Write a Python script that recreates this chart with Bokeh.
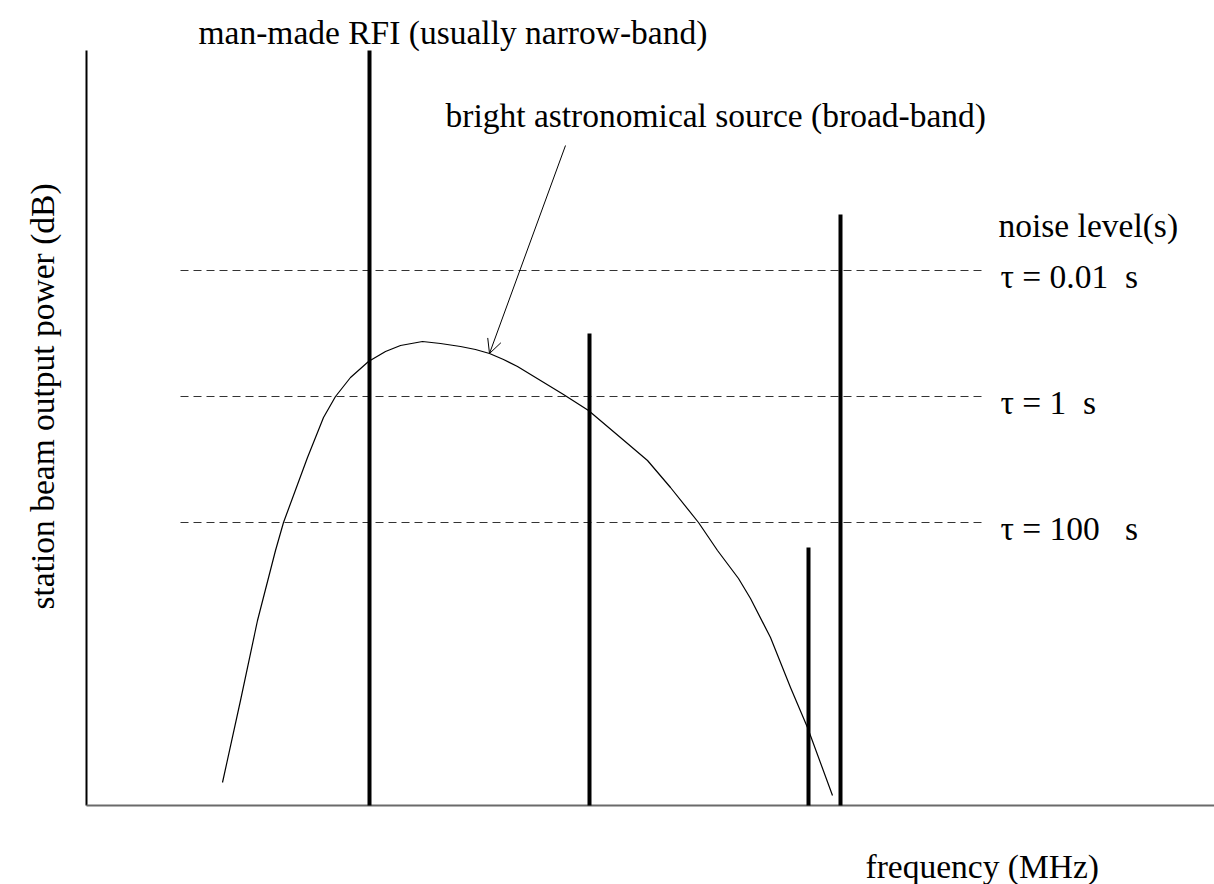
import math
from bokeh.plotting import figure
from bokeh.models import Range1d, Arrow, OpenHead
from bokeh.core.properties import value
from bokeh.embed import file_html
from bokeh.resources import INLINE

# ---- data (schematic units: frequency along x, power in dB along y) ----
rfi_freq = [283, 503, 722, 754]
rfi_power = [755, 472, 258, 591]

noise_levels = [535, 409, 283]
noise_labels = ["τ = 0.01 \u00a0s", "τ = 1 \u00a0s", "τ = 100 \u00a0\u00a0s"]
noise_span = [94, 899]

source_freq = [136, 154, 171, 189, 197, 221, 237, 249, 264, 282, 299, 314, 336,
               354, 374, 389, 403, 417, 431, 454, 477, 502, 541, 561, 584, 612,
               631, 652, 664, 684, 704, 721, 746]
source_power = [23, 105, 185, 255, 283, 348, 388, 409, 428, 444, 454, 460, 464,
                462, 459, 456, 452, 446, 439, 425, 411, 395, 362, 345, 318, 283,
                255, 227, 207, 168, 118, 78, 10]

title_rfi = "man-made RFI (usually narrow-band)"
title_source = "bright astronomical source (broad-band)"
title_noise = "noise level(s)"
x_label = "frequency (MHz)"
y_label = "station beam output power (dB)"

FONT = value("Liberation Serif")
FS = "33.5px"

p = figure(width=1214, height=884, output_backend="svg", toolbar_location=None,
           x_range=Range1d(-86, 1128), y_range=Range1d(-79, 805),
           x_axis_type=None, y_axis_type=None, min_border=0)
p.grid.visible = False
p.outline_line_color = None
p.background_fill_color = "white"
p.border_fill_color = "white"

# axes lines
p.segment(x0=[0], y0=[0], x1=[0], y1=[755], line_color="black", line_width=2)
p.segment(x0=[0], y0=[0], x1=[1128], y1=[0], line_color="#6a6a6a", line_width=2)

# noise levels (dashed)
p.segment(x0=[noise_span[0]] * len(noise_levels), y0=noise_levels,
          x1=[noise_span[1]] * len(noise_levels), y1=noise_levels,
          line_color="#333333", line_width=1, line_dash="8 5")

# broad-band source
p.line(source_freq, source_power, line_color="black", line_width=1.2,
       line_join="round")

# RFI spikes
p.segment(x0=rfi_freq, y0=[0] * len(rfi_freq), x1=rfi_freq, y1=rfi_power,
          line_color="black", line_width=4)

# arrow pointing at the source curve
p.add_layout(Arrow(end=OpenHead(size=14, line_width=1, line_color="black"),
                   x_start=479, y_start=660, x_end=403, y_end=452,
                   line_color="black", line_width=1))

# texts
p.text(x=[112], y=[773], text=[title_rfi], text_font=FONT, text_font_size=FS,
       text_baseline="alphabetic", text_align="left", text_color="black")
p.text(x=[359], y=[690], text=[title_source], text_font=FONT, text_font_size=FS,
       text_baseline="alphabetic", text_align="left", text_color="black")
p.text(x=[912], y=[580], text=[title_noise], text_font=FONT, text_font_size=FS,
       text_baseline="alphabetic", text_align="left", text_color="black")
p.text(x=[914] * len(noise_levels), y=[v - 6 for v in noise_levels], text=noise_labels,
       text_font=FONT, text_font_size=FS, text_baseline="alphabetic",
       text_align="left", text_color="black")
p.text(x=[779], y=[-61], text=[x_label], text_font=FONT, text_font_size=FS,
       text_baseline="alphabetic", text_align="left", text_color="black")
p.text(x=[-44], y=[409], text=[y_label], text_font=FONT, text_font_size=FS,
       text_baseline="middle", text_align="center", angle=math.pi / 2,
       text_color="black")

open("out.html", "w").write(file_html(p, INLINE))
